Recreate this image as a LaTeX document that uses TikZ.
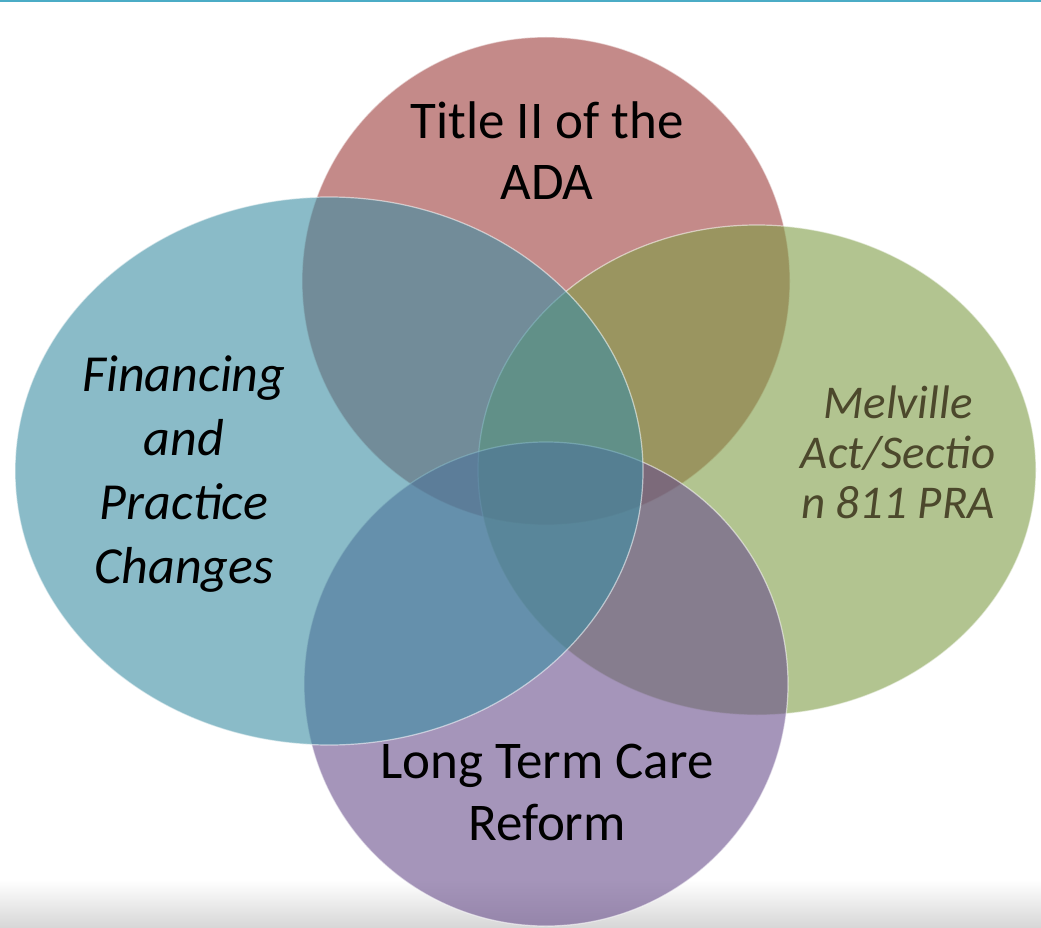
\documentclass[tikz,border=0pt]{standalone}
\usepackage{fontspec}
\setmainfont{Carlito}
\usetikzlibrary{positioning}
\definecolor{adared}{RGB}{156,60,58}
\definecolor{finblue}{RGB}{60,142,163}
\definecolor{melgreen}{RGB}{127,157,70}
\definecolor{ltcpurple}{RGB}{105,78,140}
\definecolor{meltext}{RGB}{76,72,44}
\definecolor{topline}{RGB}{75,172,198}
\begin{document}
\begin{tikzpicture}[x=1pt, y=-1pt, line join=round, line cap=round,
  venn/.style={fill opacity=0.6, draw=white, draw opacity=0.55, line width=1.2pt},
  lbl/.style={align=center, inner sep=0pt}]
\useasboundingbox (0,0) rectangle (1041,928);
\path (546,281) coordinate (R) (757,470) coordinate (G) (546,684) coordinate (P) (329,471) coordinate (B);
% background strips
\shade[top color=white, bottom color=black!16] (0,880) rectangle (1041,928);
\fill[topline] (0,0) rectangle (1041,2.5);
% the four sets
\foreach \c/\col/\rx/\ry in {R/adared/244/244, G/melgreen/279/245, P/ltcpurple/242/242, B/finblue/314/274}{
  \filldraw[venn, fill=\col] (\c) ellipse [x radius=\rx, y radius=\ry];}
% labels
\node[lbl, font=\fontsize{53}{61}\selectfont] (ada) at (547,151) {Title II of the\\ADA};
\node[lbl, font=\itshape\fontsize{52}{64}\selectfont] (fin) at (184,474) {Financing\\and\\Practice\\Changes};
\node[lbl, font=\itshape\fontsize{47}{50}\selectfont, text=meltext] (mel) at (898,452) {Melville\\Act/Sectio\\n 811 PRA};
\node[lbl, font=\fontsize{53}{62}\selectfont] (ltc) at (547,792) {Long Term Care\\Reform};
\end{tikzpicture}
\end{document}
